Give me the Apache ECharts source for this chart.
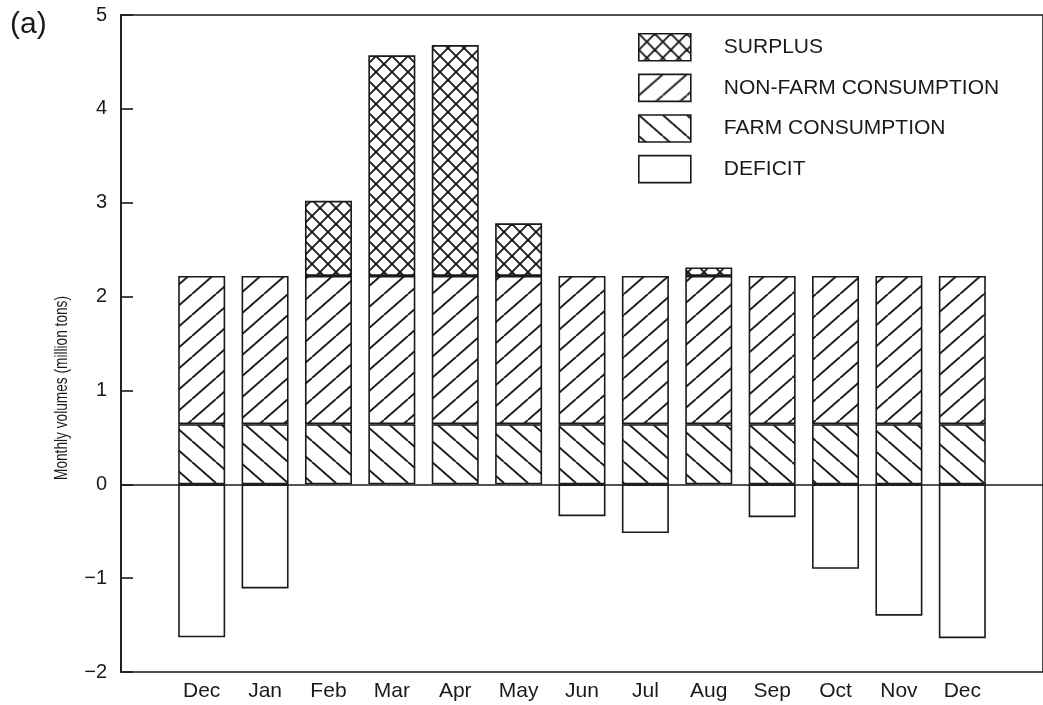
<!DOCTYPE html>
<html>
<head>
<meta charset="utf-8">
<script src="https://cdn.jsdelivr.net/npm/echarts@6/dist/echarts.min.js"></script>
<style>
  html, body { margin: 0; padding: 0; background: #fff; }
  #chart { width: 1043px; height: 705px; }
</style>
</head>
<body>
<div id="chart"></div>
<script>
// Monthly grain volumes (million tons), December through December
const months = ['Dec', 'Jan', 'Feb', 'Mar', 'Apr', 'May', 'Jun', 'Jul', 'Aug', 'Sep', 'Oct', 'Nov', 'Dec'];
const farmConsumption    = [0.64, 0.64, 0.64, 0.64, 0.64, 0.64, 0.64, 0.64, 0.64, 0.64, 0.64, 0.64, 0.64];
const nonFarmConsumption = [1.58, 1.58, 1.58, 1.58, 1.58, 1.58, 1.58, 1.58, 1.58, 1.58, 1.58, 1.58, 1.58];
const surplus            = [0, 0, 0.80, 2.35, 2.46, 0.56, 0, 0, 0.09, 0, 0, 0, 0];
const deficit            = [-1.63, -1.11, 0, 0, 0, 0, -0.34, -0.52, 0, -0.35, -0.90, -1.40, -1.64];
const yTicks = [-2, -1, 0, 1, 2, 3, 4, 5];

const INK = '#1a1a1a';
const FONT = 'Liberation Sans, Arial, Helvetica, sans-serif';

// Hatch tile: '/' , '\' or 'x'
function hatch(w, h, kind, lw) {
  const c = document.createElement('canvas');
  c.width = w; c.height = h;
  const ctx = c.getContext('2d');
  ctx.fillStyle = '#fff';
  ctx.fillRect(0, 0, w, h);
  ctx.strokeStyle = INK;
  ctx.lineWidth = lw;
  const seg = (x0, y0, x1, y1) => { ctx.beginPath(); ctx.moveTo(x0, y0); ctx.lineTo(x1, y1); ctx.stroke(); };
  for (const dx of [-w, 0, w]) {
    if (kind === '/' || kind === 'x') seg(dx, h, dx + w, 0);
    if (kind === '\\' || kind === 'x') seg(dx, 0, dx + w, h);
  }
  return { image: c, repeat: 'repeat' };
}

const patSurplus = hatch(16, 16, 'x', 1.9);
const patNonFarm = hatch(24, 21, '/', 1.9);
const patFarm    = hatch(24, 21, '\\', 1.9);

const blankZero = arr => arr.map(v => (v === 0 ? '-' : v));

const outline = { borderColor: INK, borderWidth: 1.6 };

const yMin = yTicks[0], yMax = yTicks[yTicks.length - 1];

const option = {
  animation: false,
  backgroundColor: '#fff',
  title: {
    text: '(a)', left: 5, top: 5,
    textStyle: { fontFamily: FONT, fontSize: 30, fontWeight: 'normal', color: INK }
  },
  graphic: [{
    // rotated axis title, set in a condensed face
    type: 'text', x: 62, y: 388, rotation: Math.PI / 2, scaleX: 0.72,
    style: {
      text: 'Monthly volumes (million tons)',
      font: '19px ' + FONT, fill: INK, align: 'center', verticalAlign: 'middle'
    }
  }],
  legend: {
    orient: 'vertical', left: 633, top: 28,
    itemWidth: 52, itemHeight: 27, itemGap: 12,
    icon: 'rect', selectedMode: false,
    itemStyle: { borderColor: INK, borderWidth: 1.6 },
    textStyle: { fontFamily: FONT, fontSize: 21, color: INK, padding: [0, 0, 0, 28] },
    data: ['SURPLUS', 'NON-FARM CONSUMPTION', 'FARM CONSUMPTION', 'DEFICIT']
  },
  grid: [
    // bars
    { left: 170, right: 49, top: 15, bottom: 33 },
    // frame with value axis
    { left: 121, right: -10, top: 15, bottom: 33, show: true, borderColor: INK, borderWidth: 1.6, backgroundColor: 'transparent' }
  ],
  xAxis: [
    {
      gridIndex: 0, type: 'category', data: months,
      axisLine: { show: false }, axisTick: { show: false },
      axisLabel: { fontFamily: FONT, fontSize: 21, color: INK, margin: 9 }
    },
    {
      gridIndex: 1, type: 'value', min: 0, max: 1,
      axisLine: { show: true, onZero: true, lineStyle: { color: INK, width: 1.6 } },
      axisTick: { show: false }, axisLabel: { show: false }, splitLine: { show: false }
    }
  ],
  yAxis: [
    {
      gridIndex: 0, type: 'value', min: yMin, max: yMax, interval: 1,
      show: false, splitLine: { show: false }
    },
    {
      gridIndex: 1, type: 'value', min: yMin, max: yMax, interval: 1,
      axisLine: { show: true, lineStyle: { color: INK, width: 1.6 } },
      axisTick: { show: true, inside: true, length: 12, lineStyle: { color: INK, width: 1.6 } },
      axisLabel: {
        fontFamily: FONT, fontSize: 20, color: INK, margin: 14,
        formatter: v => (v < 0 ? '\u2212' + Math.abs(v) : String(v))
      },
      splitLine: { show: false }
    }
  ],
  series: [
    {
      name: 'FARM CONSUMPTION', type: 'bar', stack: 'v', barWidth: 47,
      xAxisIndex: 0, yAxisIndex: 0,
      itemStyle: Object.assign({ color: patFarm }, outline),
      data: farmConsumption
    },
    {
      name: 'NON-FARM CONSUMPTION', type: 'bar', stack: 'v', barWidth: 47,
      xAxisIndex: 0, yAxisIndex: 0,
      itemStyle: Object.assign({ color: patNonFarm }, outline),
      data: nonFarmConsumption
    },
    {
      name: 'SURPLUS', type: 'bar', stack: 'v', barWidth: 47,
      xAxisIndex: 0, yAxisIndex: 0,
      itemStyle: Object.assign({ color: patSurplus }, outline),
      data: blankZero(surplus)
    },
    {
      name: 'DEFICIT', type: 'bar', stack: 'v', barWidth: 47,
      xAxisIndex: 0, yAxisIndex: 0,
      itemStyle: Object.assign({ color: '#fff' }, outline),
      data: blankZero(deficit)
    }
  ]
};

const chart = echarts.init(document.getElementById('chart'), null, { renderer: 'canvas' });
chart.setOption(option);
</script>
</body>
</html>
